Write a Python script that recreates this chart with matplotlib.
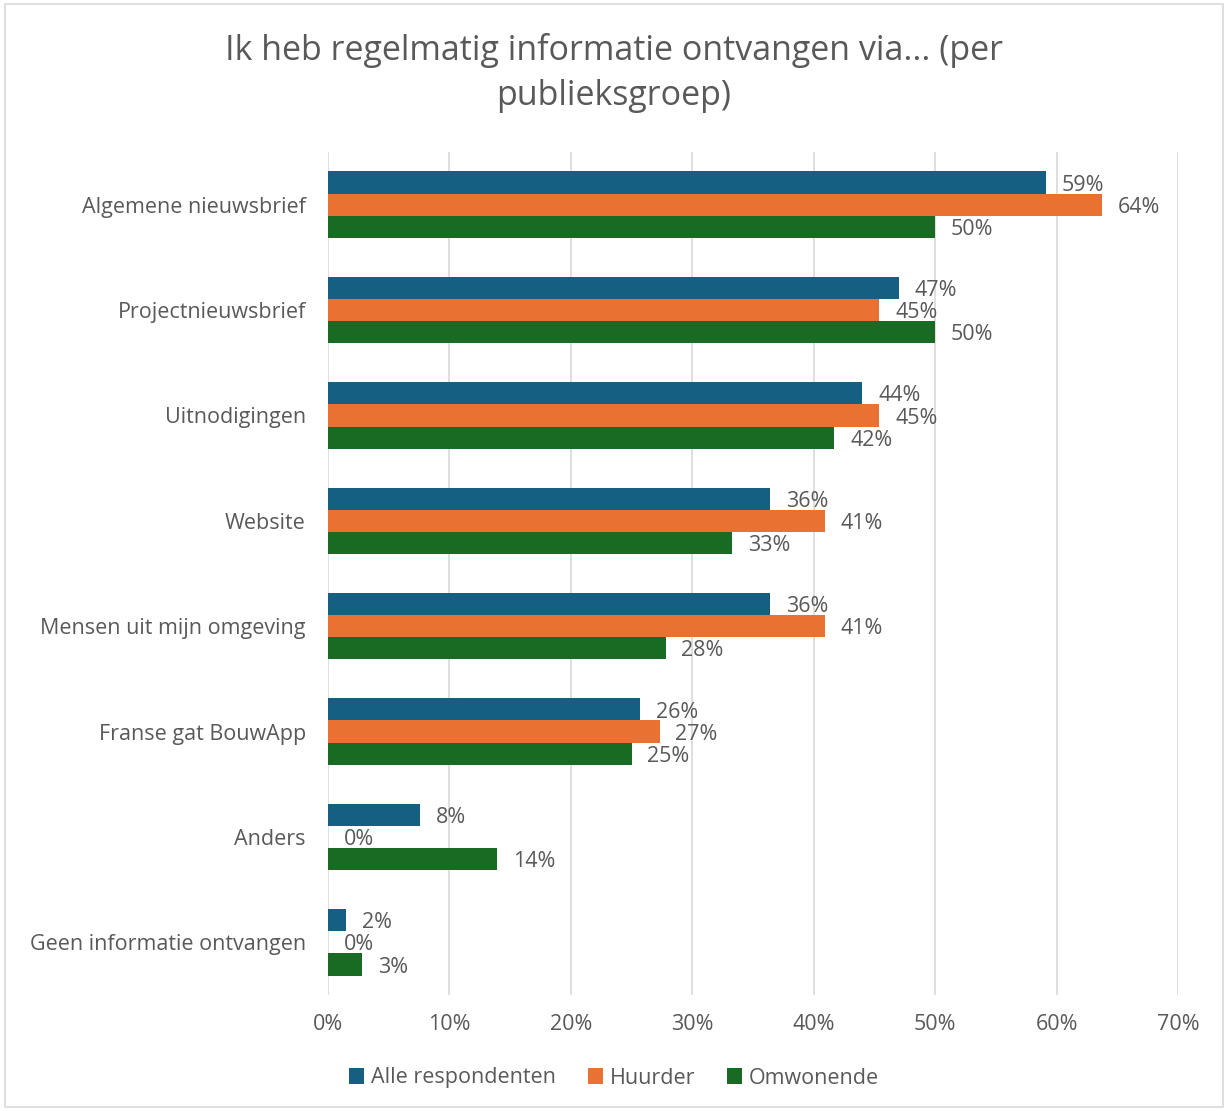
import matplotlib.pyplot as plt
import numpy as np

plt.rcParams['font.family'] = ['Open Sans', 'DejaVu Sans']

categories = ['Algemene nieuwsbrief', 'Projectnieuwsbrief', 'Uitnodigingen', 'Website',
              'Mensen uit mijn omgeving', 'Franse gat BouwApp', 'Anders',
              'Geen informatie ontvangen']
alle = [59.1, 47.0, 44.0, 36.4, 36.4, 25.7, 7.6, 1.5]
huurder = [63.7, 45.4, 45.4, 40.9, 40.9, 27.3, 0.0, 0.0]
omwonende = [50.0, 50.0, 41.7, 33.3, 27.8, 25.0, 13.9, 2.8]
series = ['Alle respondenten', 'Huurder', 'Omwonende']
colors = ['#156082', '#E97132', '#196B24']
grey = '#595959'

fig = plt.figure(figsize=(12.28, 11.11), dpi=100)
ax = fig.add_axes([328/1228, 1-995/1111, 850/1228, 843/1111])

y = np.arange(len(categories))
h = 0.21
for i, (vals, name, c) in enumerate(zip([alle, huurder, omwonende], series, colors)):
    pos = y + (i - 1) * h
    ax.barh(pos, vals, height=h, color=c, label=name, zorder=3)
    for p, v in zip(pos, vals):
        # labels sit a touch below bar centre, like in excel
        ax.text(v + 1.3, p + 0.025, f'{v:.0f}%', va='center', ha='left', fontsize=15.5,
                color=grey, zorder=4)

ax.set_xlim(0, 70)
ax.set_ylim(len(categories) - 0.5, -0.5)
ax.set_xticks(np.arange(0, 71, 10))
ax.set_xticklabels([f'{t}%' for t in range(0, 71, 10)], fontsize=15.5, color=grey)
ax.set_yticks(y)
ax.set_yticklabels(categories, fontsize=15.5, color=grey)
ax.tick_params(length=0, pad=16)
ax.tick_params(axis='x', pad=14)
ax.grid(axis='x', color='#D9D9D9', linewidth=1.2, zorder=0)
for s in ax.spines.values():
    s.set_visible(False)

fig.suptitle('Ik heb regelmatig informatie ontvangen via... (per\npublieksgroep)',
             y=0.97, fontsize=24.5, color=grey, linespacing=1.4)

fig.legend(loc='center', bbox_to_anchor=(0.5, 1-1078/1111), ncol=3, frameon=False,
           fontsize=15.5, labelcolor=grey, handlelength=0.7, handleheight=0.7,
           handletextpad=0.3, columnspacing=1.5)

fig.patches.append(plt.Rectangle((0.004, 0.004), 0.992, 0.992, transform=fig.transFigure,
                                 fill=False, edgecolor='#D9D9D9', linewidth=1.2))

fig.savefig('out.png', dpi=100)
